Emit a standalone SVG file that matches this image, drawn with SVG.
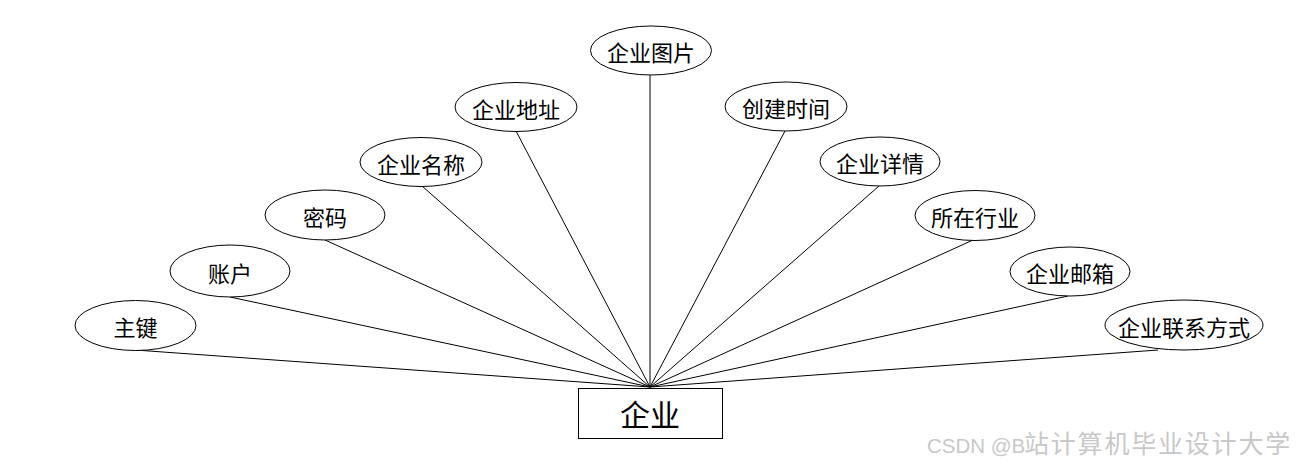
<svg xmlns="http://www.w3.org/2000/svg" width="1300" height="468" viewBox="0 0 1300 468">
<style>
.attr ellipse{fill:#fff;stroke:#000;stroke-width:1}
.attr text{font-family:"Noto Sans CJK SC","Microsoft YaHei",sans-serif;font-size:22px;fill:#000;text-anchor:middle;dominant-baseline:central}
.ent rect{fill:#fff;stroke:#000;stroke-width:1}
.ent text{font-family:"Noto Sans CJK SC",sans-serif;font-size:30px;fill:#000;text-anchor:middle;dominant-baseline:central}
.conn line{stroke:#000;stroke-width:1}
.wm{font-family:"Liberation Sans","Noto Sans CJK SC",sans-serif;font-size:20.5px;fill:#c8c8c8}
.wm .cjk{font-size:25px;letter-spacing:1.8px}
</style>
<rect width="1300" height="468" fill="#fff"/>
<g id="connectors" class="conn">
<line x1="135" y1="350" x2="650" y2="387"/>
<line x1="230" y1="297" x2="650" y2="387"/>
<line x1="325" y1="240" x2="650" y2="387"/>
<line x1="422" y1="186" x2="650" y2="387"/>
<line x1="516" y1="131" x2="650" y2="387"/>
<line x1="650" y1="75" x2="650" y2="387"/>
<line x1="785" y1="131" x2="650" y2="387"/>
<line x1="879" y1="186" x2="650" y2="387"/>
<line x1="973" y1="240" x2="650" y2="387"/>
<line x1="1068" y1="296" x2="650" y2="387"/>
<line x1="1158" y1="350" x2="650" y2="387"/>
</g>
<g id="n-zhujian" class="attr"><ellipse cx="135.5" cy="325.5" rx="60.5" ry="25"/><text x="135.5" y="326">主键</text></g>
<g id="n-zhanghu" class="attr"><ellipse cx="230" cy="271" rx="60" ry="26"/><text x="230" y="271.5">账户</text></g>
<g id="n-mima" class="attr"><ellipse cx="325" cy="215" rx="60" ry="25"/><text x="325" y="215.5">密码</text></g>
<g id="n-mingcheng" class="attr"><ellipse cx="421" cy="162" rx="61" ry="24.5"/><text x="421" y="162.5">企业名称</text></g>
<g id="n-dizhi" class="attr"><ellipse cx="516" cy="107" rx="61" ry="24.5"/><text x="516" y="107.5">企业地址</text></g>
<g id="n-tupian" class="attr"><ellipse cx="651" cy="50.5" rx="60.5" ry="24.5"/><text x="651" y="51">企业图片</text></g>
<g id="n-shijian" class="attr"><ellipse cx="786" cy="106.5" rx="61" ry="24.5"/><text x="786" y="107">创建时间</text></g>
<g id="n-xiangqing" class="attr"><ellipse cx="880" cy="161.5" rx="60" ry="24.5"/><text x="880" y="162">企业详情</text></g>
<g id="n-hangye" class="attr"><ellipse cx="975" cy="215.5" rx="60" ry="25"/><text x="975" y="216">所在行业</text></g>
<g id="n-youxiang" class="attr"><ellipse cx="1070" cy="271.5" rx="60" ry="24.5"/><text x="1070" y="272">企业邮箱</text></g>
<g id="n-lianxi" class="attr"><ellipse cx="1184" cy="325" rx="79" ry="25"/><text x="1184" y="325.5">企业联系方式</text></g>
<g id="n-qiye" class="ent"><rect x="578.5" y="388.5" width="144" height="50"/><text x="650" y="413">企业</text></g>
<text class="wm" x="927" y="453">CSDN @B<tspan class="cjk" x="1024">站计算机毕业设计大学</tspan></text>
</svg>
